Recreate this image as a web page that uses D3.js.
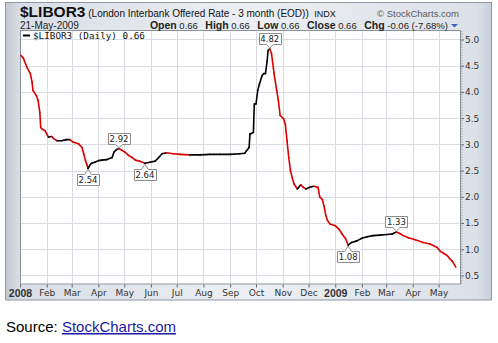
<!DOCTYPE html>
<html>
<head>
<meta charset="utf-8">
<script src="https://cdn.jsdelivr.net/npm/d3@7"></script>
<style>
  body { margin: 0; background: #fff; }
  svg { display: block; }
  text { white-space: pre; }
</style>
</head>
<body>
<svg id="chart" width="498" height="343"></svg>
<script>
// 3-month LIBOR, daily close (percent)
const dates = [
  "2008-01-02","2008-01-05","2008-01-09","2008-01-13","2008-01-15","2008-01-16","2008-01-20","2008-01-22",
  "2008-01-24","2008-01-25","2008-01-26","2008-01-30","2008-02-03","2008-02-07","2008-02-09","2008-02-13",
  "2008-02-18","2008-02-24","2008-02-28","2008-03-03","2008-03-09","2008-03-13","2008-03-15","2008-03-17",
  "2008-03-19","2008-03-20","2008-03-22","2008-03-24","2008-03-28","2008-04-01","2008-04-05","2008-04-11",
  "2008-04-17","2008-04-19","2008-04-22","2008-04-25","2008-04-28","2008-05-02","2008-05-06","2008-05-10",
  "2008-05-14","2008-05-19","2008-05-25","2008-05-31","2008-06-06","2008-06-10","2008-06-14","2008-06-19",
  "2008-06-27","2008-07-05","2008-07-16","2008-07-28","2008-08-09","2008-08-20","2008-09-01","2008-09-12",
  "2008-09-18","2008-09-20","2008-09-23","2008-09-24","2008-09-26","2008-09-28","2008-09-29","2008-10-01",
  "2008-10-03","2008-10-05","2008-10-08","2008-10-10","2008-10-12","2008-10-14","2008-10-15","2008-10-17",
  "2008-10-19","2008-10-22","2008-10-25","2008-10-27","2008-10-29","2008-11-02","2008-11-04","2008-11-06",
  "2008-11-08","2008-11-10","2008-11-12","2008-11-14","2008-11-18","2008-11-22","2008-11-25","2008-11-28",
  "2008-12-02","2008-12-07","2008-12-12","2008-12-14","2008-12-17","2008-12-19","2008-12-21","2008-12-23",
  "2008-12-26","2009-01-01","2009-01-05","2009-01-09","2009-01-13","2009-01-16","2009-01-20","2009-01-26",
  "2009-02-01","2009-02-07","2009-02-14","2009-02-22","2009-03-02","2009-03-08","2009-03-13","2009-03-17",
  "2009-03-21","2009-03-27","2009-04-04","2009-04-13","2009-04-21","2009-04-29","2009-05-03","2009-05-07",
  "2009-05-11","2009-05-14","2009-05-17","2009-05-21"
];
const values = [
  4.70,4.64,4.47,4.35,4.19,4.03,3.93,3.84,
  3.61,3.33,3.30,3.26,3.14,3.15,3.11,3.07,
  3.07,3.09,3.09,3.04,3.01,2.94,2.82,2.69,
  2.60,2.54,2.60,2.64,2.66,2.69,2.70,2.71,
  2.75,2.85,2.90,2.92,2.89,2.85,2.79,2.75,
  2.70,2.68,2.64,2.66,2.68,2.75,2.82,2.84,
  2.82,2.81,2.80,2.80,2.81,2.81,2.81,2.82,
  2.83,2.88,2.94,3.20,3.21,3.23,3.77,3.77,
  4.03,4.15,4.31,4.35,4.35,4.60,4.79,4.82,
  4.73,4.35,4.03,3.84,3.55,3.49,3.39,3.07,
  2.75,2.50,2.37,2.25,2.15,2.23,2.18,2.15,
  2.18,2.20,2.18,2.00,1.95,1.82,1.65,1.55,
  1.48,1.45,1.39,1.29,1.20,1.08,1.13,1.16,
  1.21,1.24,1.26,1.27,1.28,1.29,1.33,1.30,
  1.26,1.22,1.18,1.13,1.10,1.04,0.96,0.92,
  0.88,0.82,0.77,0.66
];
const yTicks = [0.5,1.0,1.5,2.0,2.5,3.0,3.5,4.0,4.5,5.0];
// highs and lows called out on the line
const calloutDates = ["2008-03-20","2008-04-25","2008-05-25","2008-10-17","2009-01-16","2009-03-13"];
const calloutSides = ["below","above","below","above","below","above"];

const parse = d3.timeParse("%Y-%m-%d");
const series = dates.map((d, i) => ({ date: parse(d), value: values[i] }));
const valueOn = d => series.find(p => +p.date === +parse(d)).value;

const svg = d3.select("#chart");
const plot = { left: 20, right: 461, top: 30, bottom: 284.5 };

const x = d3.scaleTime()
  .domain([parse("2008-01-01"), parse("2009-05-27")])
  .range([plot.left, plot.right]);
const y = d3.scaleLinear()
  .domain([0.328, 5.181])
  .range([plot.bottom, plot.top]);

const defs = svg.append("defs");
const panelGrad = defs.append("linearGradient").attr("id", "panelGrad")
  .attr("x1", "0").attr("x2", "1").attr("y1", "0").attr("y2", "0");
[[0, "#c2c9d3"], [0.03, "#d9dee6"], [0.5, "#eceff3"], [0.97, "#dce1e8"], [1, "#c8cfd8"]]
  .forEach(([o, c]) => panelGrad.append("stop").attr("offset", o).attr("stop-color", c));

// outer panel
svg.append("rect")
  .attr("x", 5.5).attr("y", 2.5).attr("width", 486).attr("height", 297.5)
  .attr("fill", "url(#panelGrad)").attr("stroke", "#8f98a3").attr("stroke-width", 1);

// plot background
svg.append("rect")
  .attr("x", plot.left).attr("y", plot.top)
  .attr("width", plot.right - plot.left).attr("height", plot.bottom - plot.top)
  .attr("fill", "#ffffff");

// grid
const months = d3.timeMonth.range(parse("2008-01-01"), parse("2009-05-27"));
const grid = svg.append("g").attr("stroke", "#d9dde3").attr("stroke-width", 1);
grid.selectAll("line.v").data(months.slice(1)).join("line").attr("class", "v")
  .attr("x1", d => Math.round(x(d)) + 0.5).attr("x2", d => Math.round(x(d)) + 0.5)
  .attr("y1", plot.top).attr("y2", plot.bottom);
grid.selectAll("line.h").data(yTicks).join("line").attr("class", "h")
  .attr("x1", plot.left).attr("x2", plot.right)
  .attr("y1", d => Math.round(y(d)) + 0.5).attr("y2", d => Math.round(y(d)) + 0.5);

// plot frame
svg.append("rect")
  .attr("x", plot.left + 0.5).attr("y", plot.top + 0.5)
  .attr("width", plot.right - plot.left - 1).attr("height", plot.bottom - plot.top - 1)
  .attr("fill", "none").attr("stroke", "#8a9098");

// y axis on the right
const yAxis = svg.append("g")
  .attr("transform", `translate(${plot.right},0)`)
  .call(d3.axisRight(y).tickValues(yTicks).tickFormat(d3.format(".1f")).tickSize(3).tickPadding(1));
yAxis.select(".domain").remove();
yAxis.selectAll("line").attr("stroke", "#666");
yAxis.selectAll("text")
  .attr("font-family", "DejaVu Sans, Verdana, sans-serif").attr("font-size", 9)
  .attr("fill", "#333");
// minor ticks
svg.append("g").selectAll("line")
  .data(d3.range(0.35, 5.16, 0.05)).join("line")
  .attr("x1", plot.right).attr("x2", plot.right + 1.5)
  .attr("y1", d => y(d)).attr("y2", d => y(d))
  .attr("stroke", "#999").attr("stroke-width", 0.8);

// x axis below
const xAxis = svg.append("g")
  .attr("transform", `translate(0,${plot.bottom})`)
  .call(d3.axisBottom(x).tickValues(months)
    .tickFormat(d => d.getMonth() === 0 ? d3.timeFormat("%Y")(d) : d3.timeFormat("%b")(d))
    .tickSize(3).tickPadding(2));
xAxis.select(".domain").remove();
xAxis.selectAll("line").attr("stroke", "#666");
xAxis.selectAll("text")
  .attr("fill", "#333")
  .attr("font-family", d => d.getMonth() === 0 ? "Liberation Sans, Arial, sans-serif" : "DejaVu Sans, Verdana, sans-serif")
  .attr("font-weight", d => d.getMonth() === 0 ? "bold" : "normal")
  .attr("font-size", d => d.getMonth() === 0 ? 10.5 : 9);

// price line: black on up days, red on down days
const segs = d3.pairs(series);
svg.append("g").attr("fill", "none").attr("stroke-width", 1.6).attr("stroke-linecap", "round")
  .selectAll("line").data(segs).join("line")
  .attr("x1", d => x(d[0].date)).attr("y1", d => y(d[0].value))
  .attr("x2", d => x(d[1].date)).attr("y2", d => y(d[1].value))
  .attr("stroke", d => d[1].value < d[0].value ? "#dd0000" : "#000000");

// callouts
const bw = 22, bh = 11;
const co = svg.append("g");
calloutDates.forEach((d, i) => {
  const v = valueOn(d);
  const px = x(parse(d)), py = y(v);
  const below = calloutSides[i] === "below";
  const x0 = Math.round(px - bw / 2) + 0.5, x1 = x0 + bw;
  let y0, y1, path;
  if (below) {
    y0 = Math.round(py + 6) + 0.5; y1 = y0 + bh;
    path = `M${x0},${y0}H${px - 3.5}L${px},${py + 1}L${px + 3.5},${y0}H${x1}V${y1}H${x0}Z`;
  } else {
    y1 = Math.round(py - 5) + 0.5; y0 = y1 - bh;
    path = `M${x0},${y0}H${x1}V${y1}H${px + 3.5}L${px},${py - 1}L${px - 3.5},${y1}H${x0}Z`;
  }
  co.append("path").attr("d", path).attr("fill", "#fff").attr("stroke", "#8c8c8c").attr("stroke-width", 1);
  co.append("text").attr("x", px).attr("y", y1 - 2.3)
    .attr("text-anchor", "middle")
    .attr("font-family", "DejaVu Sans, Verdana, sans-serif").attr("font-size", 8.5)
    .attr("fill", "#222").text(d3.format(".2f")(v));
});

// legend
svg.append("line").attr("x1", 23).attr("x2", 30).attr("y1", 35.5).attr("y2", 35.5)
  .attr("stroke", "#000").attr("stroke-width", 2);
svg.append("text").attr("x", 33).attr("y", 39)
  .attr("font-family", "DejaVu Sans Mono, monospace").attr("font-size", 9.3).attr("fill", "#111")
  .text("$LIBOR3 (Daily) " + d3.format(".2f")(values[values.length - 1]));

// header
const sans = "Liberation Sans, Arial, sans-serif";
const t1 = svg.append("text").attr("x", 20).attr("y", 17).attr("font-family", sans).attr("fill", "#111");
t1.append("tspan").attr("font-weight", "bold").attr("font-size", 15.5).text("$LIBOR3");
t1.append("tspan").attr("font-size", 10).text(" (London Interbank Offered Rate - 3 month (EOD))");
t1.append("tspan").attr("font-size", 9).attr("dx", 3).text(" INDX");

svg.append("text").attr("x", 459).attr("y", 16.5).attr("text-anchor", "end")
  .attr("font-family", sans).attr("font-size", 9.5).attr("fill", "#5a5a5a")
  .text("\u00A9 StockCharts.com");

svg.append("text").attr("x", 20).attr("y", 28.5).attr("font-family", sans)
  .attr("font-size", 10).attr("fill", "#222").text("21-May-2009");

const t2 = svg.append("text").attr("x", 448).attr("y", 28.5).attr("text-anchor", "end")
  .attr("font-family", sans).attr("fill", "#222");
[["Open", " 0.66"], ["High", " 0.66"], ["Low", " 0.66"], ["Close", " 0.66"], ["Chg", " -0.06 (-7.68%)"]]
  .forEach(([k, v], i) => {
    t2.append("tspan").attr("font-weight", "bold").attr("font-size", 10.5)
      .attr("dx", i === 0 ? 0 : 7.5).text(k);
    t2.append("tspan").attr("font-size", 9.5).text(v);
  });
svg.append("path").attr("d", "M451,24H458L454.5,27.5Z").attr("fill", "#3a64b8");

// source line
const src = svg.append("text").attr("x", 6).attr("y", 332)
  .attr("font-family", sans).attr("font-size", 15).attr("fill", "#000");
src.append("tspan").text("Source: ");
src.append("tspan").attr("fill", "#1a1aa6").attr("text-decoration", "underline").text("StockCharts.com");
</script>
</body>
</html>
